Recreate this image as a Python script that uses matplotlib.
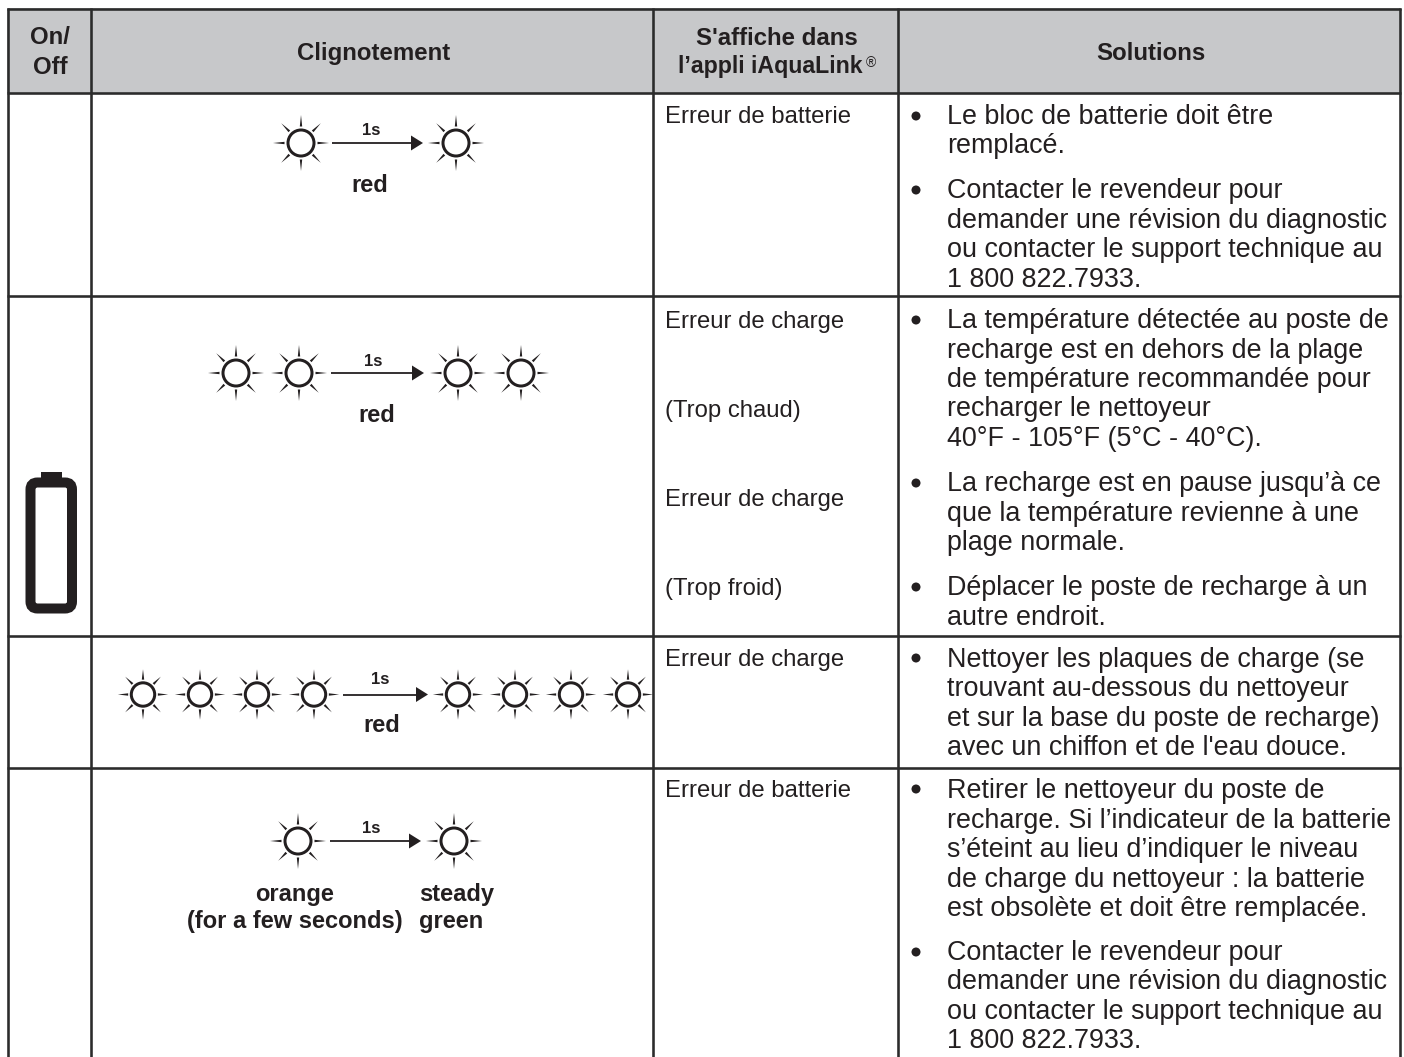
#Error table: blink codes and solutions
import numpy as np
import matplotlib
matplotlib.use('Agg')
import matplotlib.pyplot as plt
from matplotlib.patches import Circle, Polygon, Rectangle, FancyBboxPatch

plt.rcParams['font.family'] = ['Liberation Sans', 'DejaVu Sans']

INK = '#231f20'
HEAD_BG = '#c7c8ca'

headers = ['On/\nOff', 'Clignotement', "S'affiche dans", 'Solutions']
app_labels = ['Erreur de batterie', 'Erreur de charge', '(Trop chaud)', 'Erreur de charge',
              '(Trop froid)', 'Erreur de charge', 'Erreur de batterie']
solutions = ['Le bloc de batterie doit être', 'remplacé.',
             'Contacter le revendeur pour', 'demander une révision du diagnostic',
             'ou contacter le support technique au', '1 800 822.7933.',
             'La température détectée au poste de', 'recharge est en dehors de la plage',
             'de température recommandée pour', 'recharger le nettoyeur',
             '40°F - 105°F (5°C - 40°C).',
             'La recharge est en pause jusqu’à ce', 'que la température revienne à une',
             'plage normale.',
             'Déplacer le poste de recharge à un', 'autre endroit.',
             'Nettoyer les plaques de charge (se', 'trouvant au-dessous du nettoyeur',
             'et sur la base du poste de recharge)', "avec un chiffon et de l'eau douce.",
             'Retirer le nettoyeur du poste de', 'recharge. Si l’indicateur de la batterie',
             's’éteint au lieu d’indiquer le niveau', 'de charge du nettoyeur : la batterie',
             'est obsolète et doit être remplacée.',
             'Contacter le revendeur pour', 'demander une révision du diagnostic',
             'ou contacter le support technique au', '1 800 822.7933.']

px = 0.72  # one pixel in points at dpi 100

fig = plt.figure(figsize=(14.04, 10.57), dpi=100)
ax = fig.add_axes([0, 0, 1, 1])
ax.set_xlim(0, 1404)
ax.set_ylim(1057, 0)
ax.axis('off')

#####################################
def sun(x, y, k=1.0):
    ax.add_patch(Circle((x, y), 13*k, fc='white', ec=INK, lw=3*px, zorder=3))
    for i in range(8):
        a = i*np.pi/4
        dx, dy = np.cos(a), np.sin(a)
        nx, ny = -dy, dx
        r0, r1 = 16.5*k, 28*k
        pts = [(x+r0*dx+1.2*nx, y+r0*dy+1.2*ny), (x+r0*dx-1.2*nx, y+r0*dy-1.2*ny), (x+r1*dx, y+r1*dy)]
        ax.add_patch(Polygon(pts, closed=True, fc=INK, ec='none', zorder=3))

def arrow(x0, x1, y):
    ax.plot([x0, x1-12], [y, y], color=INK, lw=1.8*px, solid_capstyle='butt')
    ax.add_patch(Polygon([(x1-12, y-7.5), (x1-12, y+7.5), (x1, y)], closed=True, fc=INK, ec='none'))

def label(x, y, s, size=17.0, bold=True, ha='center'):
    ax.text(x, y, s, fontsize=size, fontweight='bold' if bold else 'normal', color=INK,
            ha=ha, va='baseline')

# header band and grid
ax.add_patch(Rectangle((7, 8), 1393, 85, fc=HEAD_BG, ec='none'))
for x in [7.5, 91, 653, 898, 1400]:
    ax.plot([x, x], [8, 1057], color='#2b2b2b', lw=2.6*px, solid_capstyle='butt')
for y in [9, 93, 296, 636, 768]:
    ax.plot([7, 1401], [y, y], color='#2b2b2b', lw=2.6*px, solid_capstyle='butt')

# header text
label(50, 44, 'On/', size=17.3)
label(50, 74, 'Off', size=17.3)
label(374, 60, headers[1], size=17.3)
label(777, 45, headers[2], size=17.3)
label(678, 73, 'l’appli iAquaLink', size=16.7, ha='left')
label(871, 67, '®', size=10, bold=False)
label(1151, 60, headers[3], size=17.3)

# battery
ax.add_patch(Rectangle((41, 472), 21, 8, fc=INK, ec='none'))
ax.add_patch(FancyBboxPatch((30.5, 482.5), 41.5, 126, boxstyle='round,pad=0,rounding_size=7',
                            fc='white', ec=INK, lw=10*px))

# blink sequences
for x in [301, 456]:
    sun(x, 143)
arrow(332, 423, 143)
label(371, 135, '1s', size=12)
label(370, 191.5, 'red')

for x in [236, 299, 458, 521]:
    sun(x, 373)
arrow(331, 424, 373)
label(373, 366, '1s', size=12)
label(377, 422, 'red')

for x in [143, 200, 257, 314, 458, 515, 571, 628]:
    sun(x, 694.5, 0.9)
arrow(343, 428, 694.5)
label(380, 684, '1s', size=12)
label(382, 732, 'red')

for x in [298, 454]:
    sun(x, 841)
arrow(330, 421, 841)
label(371, 833, '1s', size=12)
label(295, 901, 'orange')
label(295, 928, '(for a few seconds)')
label(419, 901, 'steady', ha='left')
label(419, 928, 'green', ha='left')

# app column
for s, y in zip(app_labels, [123, 328, 417, 506, 595, 666, 797]):
    label(665, y, s, size=17.2, bold=False, ha='left')

# solutions column
sol_y = [124, 153, 198, 228, 257, 287, 328, 358, 387, 416, 446, 491, 521, 550, 595, 625,
         667, 696, 726, 755, 798, 828, 857, 887, 916, 960, 989, 1019, 1048]
for s, y in zip(solutions, sol_y):
    label(947, y, s, size=19.4, bold=False, ha='left')
for y in [116, 190, 320, 483, 587, 658, 789, 952]:
    ax.add_patch(Circle((916, y), 4.5, fc=INK, ec='none'))

plt.savefig('out.png', dpi=100)
